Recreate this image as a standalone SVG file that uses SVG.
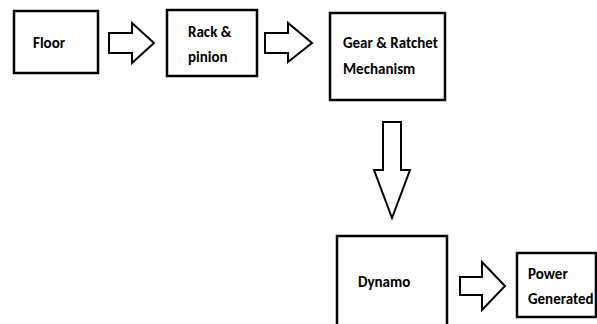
<svg xmlns="http://www.w3.org/2000/svg" width="597" height="324" viewBox="0 0 597 324">
<style>
.box{fill:#fff;stroke:#000;stroke-width:2.5}
.arr{fill:#fff;stroke:#000;stroke-width:2;stroke-linejoin:miter}
.t{font-family:Carlito,Lato,"Liberation Sans",sans-serif;font-weight:bold;font-size:15px;fill:#000}
</style>
<rect width="597" height="324" fill="#fff"/>
<g id="floor">
<rect class="box" x="14" y="11" width="84" height="62"/>
<text class="t" x="33" y="48">Floor</text>
</g>
<g id="rack">
<rect class="box" x="167" y="10" width="90" height="66"/>
<text class="t" x="188" y="37">Rack &amp;</text>
<text class="t" x="188" y="62">pinion</text>
</g>
<g id="gear">
<rect class="box" x="330" y="13" width="115" height="87"/>
<text class="t" x="343" y="48">Gear &amp; Ratchet</text>
<text class="t" x="343" y="74">Mechanism</text>
</g>
<g id="dynamo">
<rect class="box" x="337" y="236" width="110" height="100"/>
<text class="t" x="358" y="287">Dynamo</text>
</g>
<g id="power">
<rect class="box" x="517" y="253" width="79" height="64"/>
<text class="t" x="528" y="279">Power</text>
<text class="t" x="528" y="304">Generated</text>
</g>
<g id="connectors">
<polygon class="arr" points="109,33 132,33 132,23 154,43 132,63 132,53 109,53"/>
<polygon class="arr" points="265,33 288,33 288,23 312,43 288,62 288,53 265,53"/>
<polygon class="arr" points="383,122 401,122 401,170 410,170 392,218 374,170 383,170"/>
<polygon class="arr" points="460,277 482,277 482,262 505,286 482,310 482,295 460,295"/>
</g>
</svg>
